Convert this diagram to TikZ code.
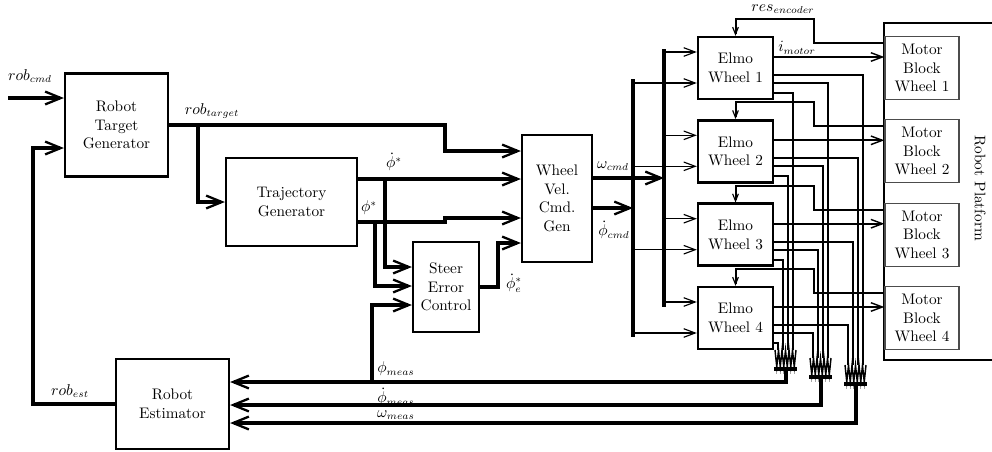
\documentclass[tikz,border=0pt]{standalone}
\usepackage{amsmath,amssymb}
\usetikzlibrary{arrows.meta}

\begin{document}
\begin{tikzpicture}[x=0.7pt,y=-0.7pt,
  every node/.style={font=\fontsize{10.7}{13}\selectfont},
  blk/.style={draw,line width=1.6pt,align=center,inner sep=1pt},
  mblk/.style={draw=black!70,line width=0.9pt,align=center,inner sep=1pt,
    minimum width=51.8pt,minimum height=44.1pt},
  lbl/.style={inner sep=0pt},
  sig/.style={line width=2.8pt,-{Straight Barb[length=11pt,width=9pt,line width=1.6pt]}},
  bus/.style={line width=2.4pt},
  wire/.style={line width=1.4pt},
  warr/.style={line width=1.3pt,-{Straight Barb[length=8pt,width=6pt,line width=1pt]}},
  thin/.style={line width=0.8pt,-{Straight Barb[length=8pt,width=6pt,line width=0.8pt]}},
  fb/.style={line width=1.4pt,-{Straight Barb[length=5pt,width=4pt,line width=0.8pt]}}]
  \clip (0,0) rectangle (992,451);
  % blocks
  \node[blk,minimum width=72.1pt,minimum height=72.1pt] (rtg) at (116.5,125) {Robot\\Target\\Generator};
  \node[blk,minimum width=91.7pt,minimum height=61.6pt] (tg) at (291.5,202) {Trajectory\\Generator};
  \node[blk,minimum width=46.2pt,minimum height=63pt] (sec) at (446,287) {Steer\\Error\\Control};
  \node[blk,minimum width=49pt,minimum height=88.9pt] (wv) at (557,198.5) {Wheel\\Vel.\\Cmd.\\Gen};
  \node[blk,minimum width=79.1pt,minimum height=63pt] (re) at (172.5,404) {Robot\\Estimator};
  \node[draw,line width=1.8pt,minimum width=88.2pt,minimum height=235.9pt] (plat) at (947,191.5) {};
  \node[rotate=-90] (platlbl) at (980,188) {Robot Platform};

  % command and trajectory signals
  \coordinate (cmdin) at (8,98);
  \draw[sig] (cmdin) -- (cmdin -| rtg.west);
  \coordinate (tj) at (445,125);
  \coordinate (tb) at (198,125);
  \draw[sig] (rtg.east) -- (tj) |- (wv.west |- 0,151);
  \draw[sig] (tb) |- (tg.west);
  \coordinate (dj) at (385,179);
  \coordinate (pj) at (375,222);
  \draw[sig] (tg.east |- dj) -- (wv.west |- dj);
  \draw[sig] (dj) |- (sec.west |- 0,267);
  \draw[sig] (tg.east |- pj) -| (445,218) -- (wv.west |- 0,218);
  \draw[sig] (pj) |- (sec.west |- 0,286);
  \draw[sig] (sec.east) -| (498,243) -- (wv.west |- 0,243);

  % wheel command buses
  \coordinate (bw) at (664,178);
  \coordinate (bp) at (633,208);
  \draw[sig] (wv.east |- bw) -- (bw);
  \draw[sig] (wv.east |- bp) -- (bp);
  \draw[bus] (633,79) -- (633,337);
  \draw[bus] (664,49) -- (664,307);

  % drives and motor blocks
  \foreach \i/\c in {1/68,2/151.3,3/234.7,4/318} {
    \node[blk,line width=1.7pt,minimum width=52.5pt,minimum height=43.4pt] (e\i) at (735.5,\c) {Elmo\\Wheel \i};
    \node[mblk] (mb\i) at (922,\c) {Motor\\Block\\Wheel \i};
    \path (e\i.west) ++(0,-16) coordinate (ea\i) ++(0,31) coordinate (eb\i);
    \draw[thin] (bw |- ea\i) -- (ea\i);
    \draw[thin] (bp |- eb\i) -- (eb\i);
    \path (e\i.east) ++(0,-11) coordinate (em\i);
    \draw[warr] (em\i) -- (em\i -| mb\i.west);
    \path (plat.west |- e\i.center) ++(0,-25) coordinate (pr\i);
    \draw[fb] (pr\i) -| ++(-69,-24) -| (e\i.north);
    \path (e\i.east) ++(0,7) coordinate (oa\i) ++(0,8) coordinate (ob\i) ++(0,10) coordinate (oc\i);
    \draw[wire] (oa\i) -| ({868-5*\i},365);
    \draw[wire] (ob\i) -| ({833-5*\i},358);
    \draw[wire] (oc\i) -| ({798-5*\i},350);
  }

  % measurement merges
  \foreach \g/\xl/\yt in {A/775/350,B/810/358,C/845/365} {
    \draw[line width=1pt] (\xl,\yt) \foreach \k in {1,...,12} {-- ({\xl+1.75*\k},{\yt+17*mod(\k,2)})};
    \draw[line width=2.4pt] ({\xl-1},{\yt+19}) -- ({\xl+22},{\yt+19});
    \coordinate (m\g) at ({\xl+10.5},{\yt+19});
  }
  \draw[sig] (mA) |- (re.east |- 0,382);
  \draw[sig] (mB) |- (re.east |- 0,405);
  \draw[sig] (mC) |- (re.east |- 0,423);
  \coordinate (sj) at (372,382);
  \draw[sig] (sj) |- (sec.west |- 0,305);
  \coordinate (fbx) at (33,148);
  \draw[sig] (re.west) -| (fbx) -- (fbx -| rtg.west);

  % labels
  \node[lbl] (lcmd) at (30,76) {$rob_{cmd}$};
  \node[lbl] (ltgt) at (212,111) {$rob_{target}$};
  \node[lbl] (lphid) at (394,162) {$\dot{\phi}^{*}$};
  \node[lbl] (lphi) at (369,208) {$\phi^{*}$};
  \node[lbl] (lphie) at (514,283) {$\dot{\phi}^{*}_{e}$};
  \node[lbl] (lwcmd) at (613,166) {$\omega_{cmd}$};
  \node[lbl] (lpcmd) at (614,230) {$\dot{\phi}_{cmd}$};
  \node[lbl] (limot) at (797,48) {$i_{motor}$};
  \node[lbl] (lres) at (783,9) {$res_{encoder}$};
  \node[lbl] (lpm) at (396,369) {$\phi_{meas}$};
  \node[lbl] (lpdm) at (396,397) {$\dot{\phi}_{meas}$};
  \node[lbl] (lwm) at (396,415) {$\omega_{meas}$};
  \node[lbl] (lest) at (70,391) {$rob_{est}$};
\end{tikzpicture}
\end{document}
